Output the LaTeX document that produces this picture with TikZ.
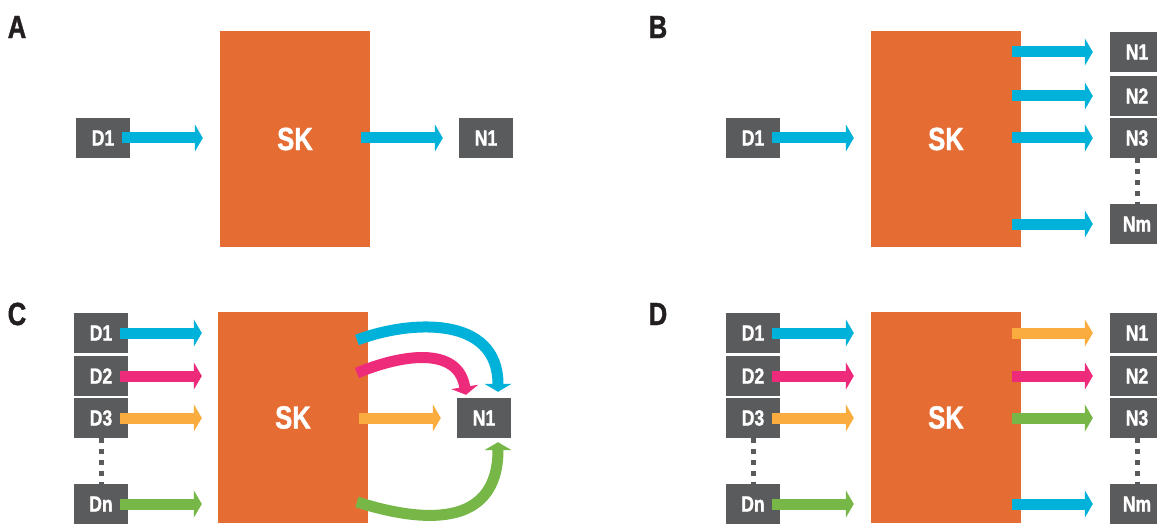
\documentclass[tikz,border=0pt]{standalone}
\usepackage{fontspec}
\newfontfamily\condbold{Liberation Sans Bold}[FakeStretch=0.8, FakeBold=1.3]
\usetikzlibrary{arrows.meta}
\definecolor{boxgray}{HTML}{5A5B5D}
\definecolor{skorange}{HTML}{E56D34}
\definecolor{cblue}{HTML}{00B1D9}
\definecolor{cpink}{HTML}{EE2B7B}
\definecolor{cyellow}{HTML}{FBAC3E}
\definecolor{cgreen}{HTML}{77B748}
\definecolor{lblack}{HTML}{231F20}
\tikzset{
  databox/.style={fill=boxgray, text=white, minimum width=54pt, minimum height=40pt, inner sep=0pt,
    font=\condbold\fontsize{22}{22}\selectfont},
  skbox/.style={fill=skorange, text=white, minimum width=150pt, inner sep=0pt,
    font=\condbold\fontsize{32}{32}\selectfont},
  panellabel/.style={text=lblack, inner sep=0pt, font=\condbold\fontsize{32}{32}\selectfont},
  arr/.style={line width=11pt, line cap=butt, -{Triangle[length=8pt,width=27pt]}},
  dotline/.style={draw=boxgray, line width=5pt, dash pattern=on 5pt off 6pt}
}
\begin{document}
\begin{tikzpicture}[x=1pt,y=-1pt]
\clip (0,0) rectangle (1157,524);
\fill[white] (0,0) rectangle (1157,524);

% ---------------- Panel A ----------------
\node[panellabel] (lA) at (17,27) {A};
\node[skbox, minimum height=216pt] (SKa) at (295,139) {SK};
\node[databox] (Da1) at (103,138) {D1};
\node[databox] (Na1) at (486,138) {N1};
\draw[arr, cblue] ([xshift=-8pt]Da1.east) -- ([xshift=-17pt]SKa.west |- Da1.east);
\draw[arr, cblue] ([xshift=-9pt]SKa.east |- Na1.west) -- ([xshift=-16pt]Na1.west);

% ---------------- Panel B ----------------
\node[panellabel] (lB) at (658,27) {B};
\node[skbox, minimum height=216pt] (SKb) at (946,139) {SK};
\node[databox] (Db1) at (753,138) {D1};
\node[databox] (Nb1) at (1137,52) {N1};
\node[databox] (Nb2) at (1137,96) {N2};
\node[databox] (Nb3) at (1137,138) {N3};
\node[databox] (Nbm) at (1137,224) {Nm};
\draw[dotline] (Nb3.south) -- (Nbm.north);
\draw[arr, cblue] ([xshift=-8pt]Db1.east) -- ([xshift=-17pt]SKb.west |- Db1.east);
\foreach \n in {Nb1,Nb2,Nb3,Nbm}
  \draw[arr, cblue] ([xshift=-9pt]SKb.east |- \n.west) -- ([xshift=-17pt]\n.west);

% ---------------- Panel C ----------------
\node[panellabel] (lC) at (17,314) {C};
\node[skbox, minimum height=211pt] (SKc) at (293,417.5) {SK};
\node[databox] (Dc1) at (101,333) {D1};
\node[databox] (Dc2) at (101,376) {D2};
\node[databox] (Dc3) at (101,418) {D3};
\node[databox] (Dcn) at (101,504) {Dn};
\node[databox] (Nc1) at (484,418) {N1};
\draw[dotline] (Dc3.south) -- (Dcn.north);
\draw[arr, cblue]   ([xshift=-8pt]Dc1.east) -- ([xshift=-16pt]SKc.west |- Dc1.east);
\draw[arr, cpink]   ([xshift=-8pt]Dc2.east) -- ([xshift=-16pt]SKc.west |- Dc2.east);
\draw[arr, cyellow] ([xshift=-8pt]Dc3.east) -- ([xshift=-16pt]SKc.west |- Dc3.east);
\draw[arr, cgreen]  ([xshift=-8pt]Dcn.east) -- ([xshift=-16pt]SKc.west |- Dcn.east);
\coordinate (cbS) at (357,340);
\coordinate (cpS) at (357,373);
\coordinate (cgS) at (357,502);
\draw[arr, cblue] (cbS) .. controls (410,320) and (498,315) .. ([shift={(14,-6)}]Nc1.north);
\draw[arr, cpink] (cpS) .. controls (400,355) and (458,345) .. ([shift={(-18,-3)}]Nc1.north);
\draw[arr, cyellow] ([xshift=-9pt]SKc.east |- Nc1.west) -- ([xshift=-16pt]Nc1.west);
\draw[arr, cgreen] (cgS) .. controls (420,522) and (498,530) .. ([shift={(14,4)}]Nc1.south);

% ---------------- Panel D ----------------
\node[panellabel] (lD) at (658,314) {D};
\node[skbox, minimum height=211pt] (SKd) at (946,417.5) {SK};
\node[databox] (Dd1) at (753,333) {D1};
\node[databox] (Dd2) at (753,376) {D2};
\node[databox] (Dd3) at (753,418) {D3};
\node[databox] (Ddn) at (753,504) {Dn};
\node[databox] (Nd1) at (1137,333) {N1};
\node[databox] (Nd2) at (1137,376) {N2};
\node[databox] (Nd3) at (1137,418) {N3};
\node[databox] (Ndm) at (1137,504) {Nm};
\draw[dotline] (Dd3.south) -- (Ddn.north);
\draw[dotline] (Nd3.south) -- (Ndm.north);
\draw[arr, cblue]   ([xshift=-8pt]Dd1.east) -- ([xshift=-17pt]SKd.west |- Dd1.east);
\draw[arr, cpink]   ([xshift=-8pt]Dd2.east) -- ([xshift=-17pt]SKd.west |- Dd2.east);
\draw[arr, cyellow] ([xshift=-8pt]Dd3.east) -- ([xshift=-17pt]SKd.west |- Dd3.east);
\draw[arr, cgreen]  ([xshift=-8pt]Ddn.east) -- ([xshift=-17pt]SKd.west |- Ddn.east);
\draw[arr, cyellow] ([xshift=-9pt]SKd.east |- Nd1.west) -- ([xshift=-17pt]Nd1.west);
\draw[arr, cpink]   ([xshift=-9pt]SKd.east |- Nd2.west) -- ([xshift=-17pt]Nd2.west);
\draw[arr, cgreen]  ([xshift=-9pt]SKd.east |- Nd3.west) -- ([xshift=-17pt]Nd3.west);
\draw[arr, cblue]   ([xshift=-9pt]SKd.east |- Ndm.west) -- ([xshift=-17pt]Ndm.west);
\end{tikzpicture}
\end{document}
